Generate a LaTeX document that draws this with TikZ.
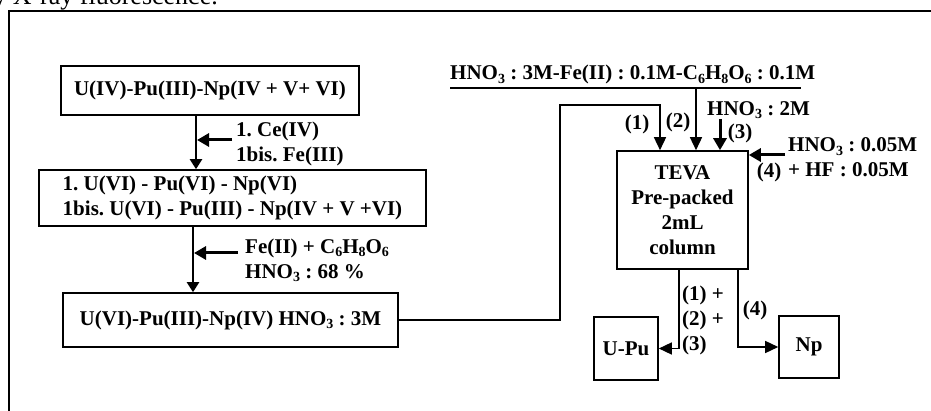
\documentclass[tikz,border=0pt]{standalone}
\usepackage{fontspec}
\setmainfont{Liberation Serif}
\usetikzlibrary{arrows.meta, positioning, calc}
\newcommand{\chs}[1]{\raisebox{-0.35ex}{\fontsize{14}{14}\selectfont #1}}
\frenchspacing

\begin{document}
\begin{tikzpicture}[x=1pt, y=-1pt,
  every node/.style={font=\bfseries\fontsize{21}{25}\selectfont, inner sep=0pt},
  box/.style={draw, line width=1.6pt, align=center},
  flow/.style={line width=2.2pt, -{Triangle[length=10pt,width=12pt]}},
  feed/.style={line width=3pt, -{Triangle[length=12pt,width=13pt]}},
  pipe/.style={line width=1.5pt, -{Triangle[length=13pt,width=12pt]}}]
\useasboundingbox (0,0) rectangle (931,411);

% frame and caption remnant
\draw[line width=1.5pt] (9,420) -- (9,11) -- (940,11);
\node[anchor=base east, font=\fontsize{26}{28}\selectfont] (cap) at (218,5) {y X-ray fluorescence.};

% oxidation / reduction steps
\node[box, minimum width=298, minimum height=49] (ox) at (210,90.5) {U(IV)-Pu(III)-Np(IV + V+ VI)};
\node[box, minimum width=387, minimum height=56, align=left] (mix) at (232.5,198)
  {1. U(VI) - Pu(VI) - Np(VI)\\1bis. U(VI) - Pu(III) - Np(IV + V +VI)};
\node[box, minimum width=335, minimum height=54] (load) at (230.5,320) {U(VI)-Pu(III)-Np(IV) HNO\chs{3} : 3M};

\draw[flow] ([xshift=-14]ox.south) -- ([xshift=-14]ox.south |- mix.north);
\coordinate (in1) at (232,140);
\draw[feed] (in1) -- ++(-35,0);
\node[anchor=west, align=left] (oxlbl) at (236,144) {1. Ce(IV)\\1bis. Fe(III)};

\draw[flow] ([xshift=-39.5]mix.south) -- ([xshift=-39.5]mix.south |- load.north);
\coordinate (in2) at (238,253);
\draw[feed] (in2) -- ++(-44,0);
\node[anchor=west, align=left] (redlbl) at (245,260) {Fe(II) + C\chs{6}H\chs{8}O\chs{6}\\HNO\chs{3} : 68 \%};

% TEVA column
\node[box, minimum width=131, minimum height=118] (teva) at (682.5,210) {TEVA\\Pre-packed\\2mL\\column};
\node[box, minimum width=64, minimum height=63] (upu) at (626,348.5) {U-Pu};
\node[box, minimum width=60, minimum height=62] (np) at (809,347) {Np};

\coordinate (bend) at (560,105);
\draw[pipe] (load.east) -| (bend) -| ([xshift=-22.5]teva.north);

\node[anchor=base west] (wash) at (450,80) {HNO\chs{3} : 3M-Fe(II) : 0.1M-C\chs{6}H\chs{8}O\chs{6} : 0.1M};
\coordinate (ul) at (450,88);
\draw[line width=1.5pt] (ul) -- ++(351,0);
\draw[pipe] ([xshift=13.5]teva.north |- ul) -- ([xshift=13.5]teva.north);

\node[anchor=west] (strip) at (707,110) {HNO\chs{3} : 2M};
\coordinate (in3) at (720,119);
\draw[feed] (in3) -- (in3 |- teva.north);

\node (s1) at (637,124) {(1)};
\node (s2) at (678,122) {(2)};
\node (s3) at (740,133) {(3)};

\coordinate (in4) at (785,155);
\draw[feed] (in4) -- (in4 -| teva.east);
\node (s4) at (769,172) {(4)};
\node[anchor=west, align=left] (elu) at (788,157.5) {HNO\chs{3} : 0.05M\\+ HF : 0.05M};

% fractions
\draw[pipe] ([xshift=-3.5]teva.south) |- (upu.east);
\draw[pipe] ([xshift=55.5]teva.south) |- (np.west);
\node[anchor=west, align=left] (fr1) at (682,320) {(1) +\\(2) +\\(3)};
\node (fr4) at (755,310) {(4)};
\end{tikzpicture}
\end{document}
